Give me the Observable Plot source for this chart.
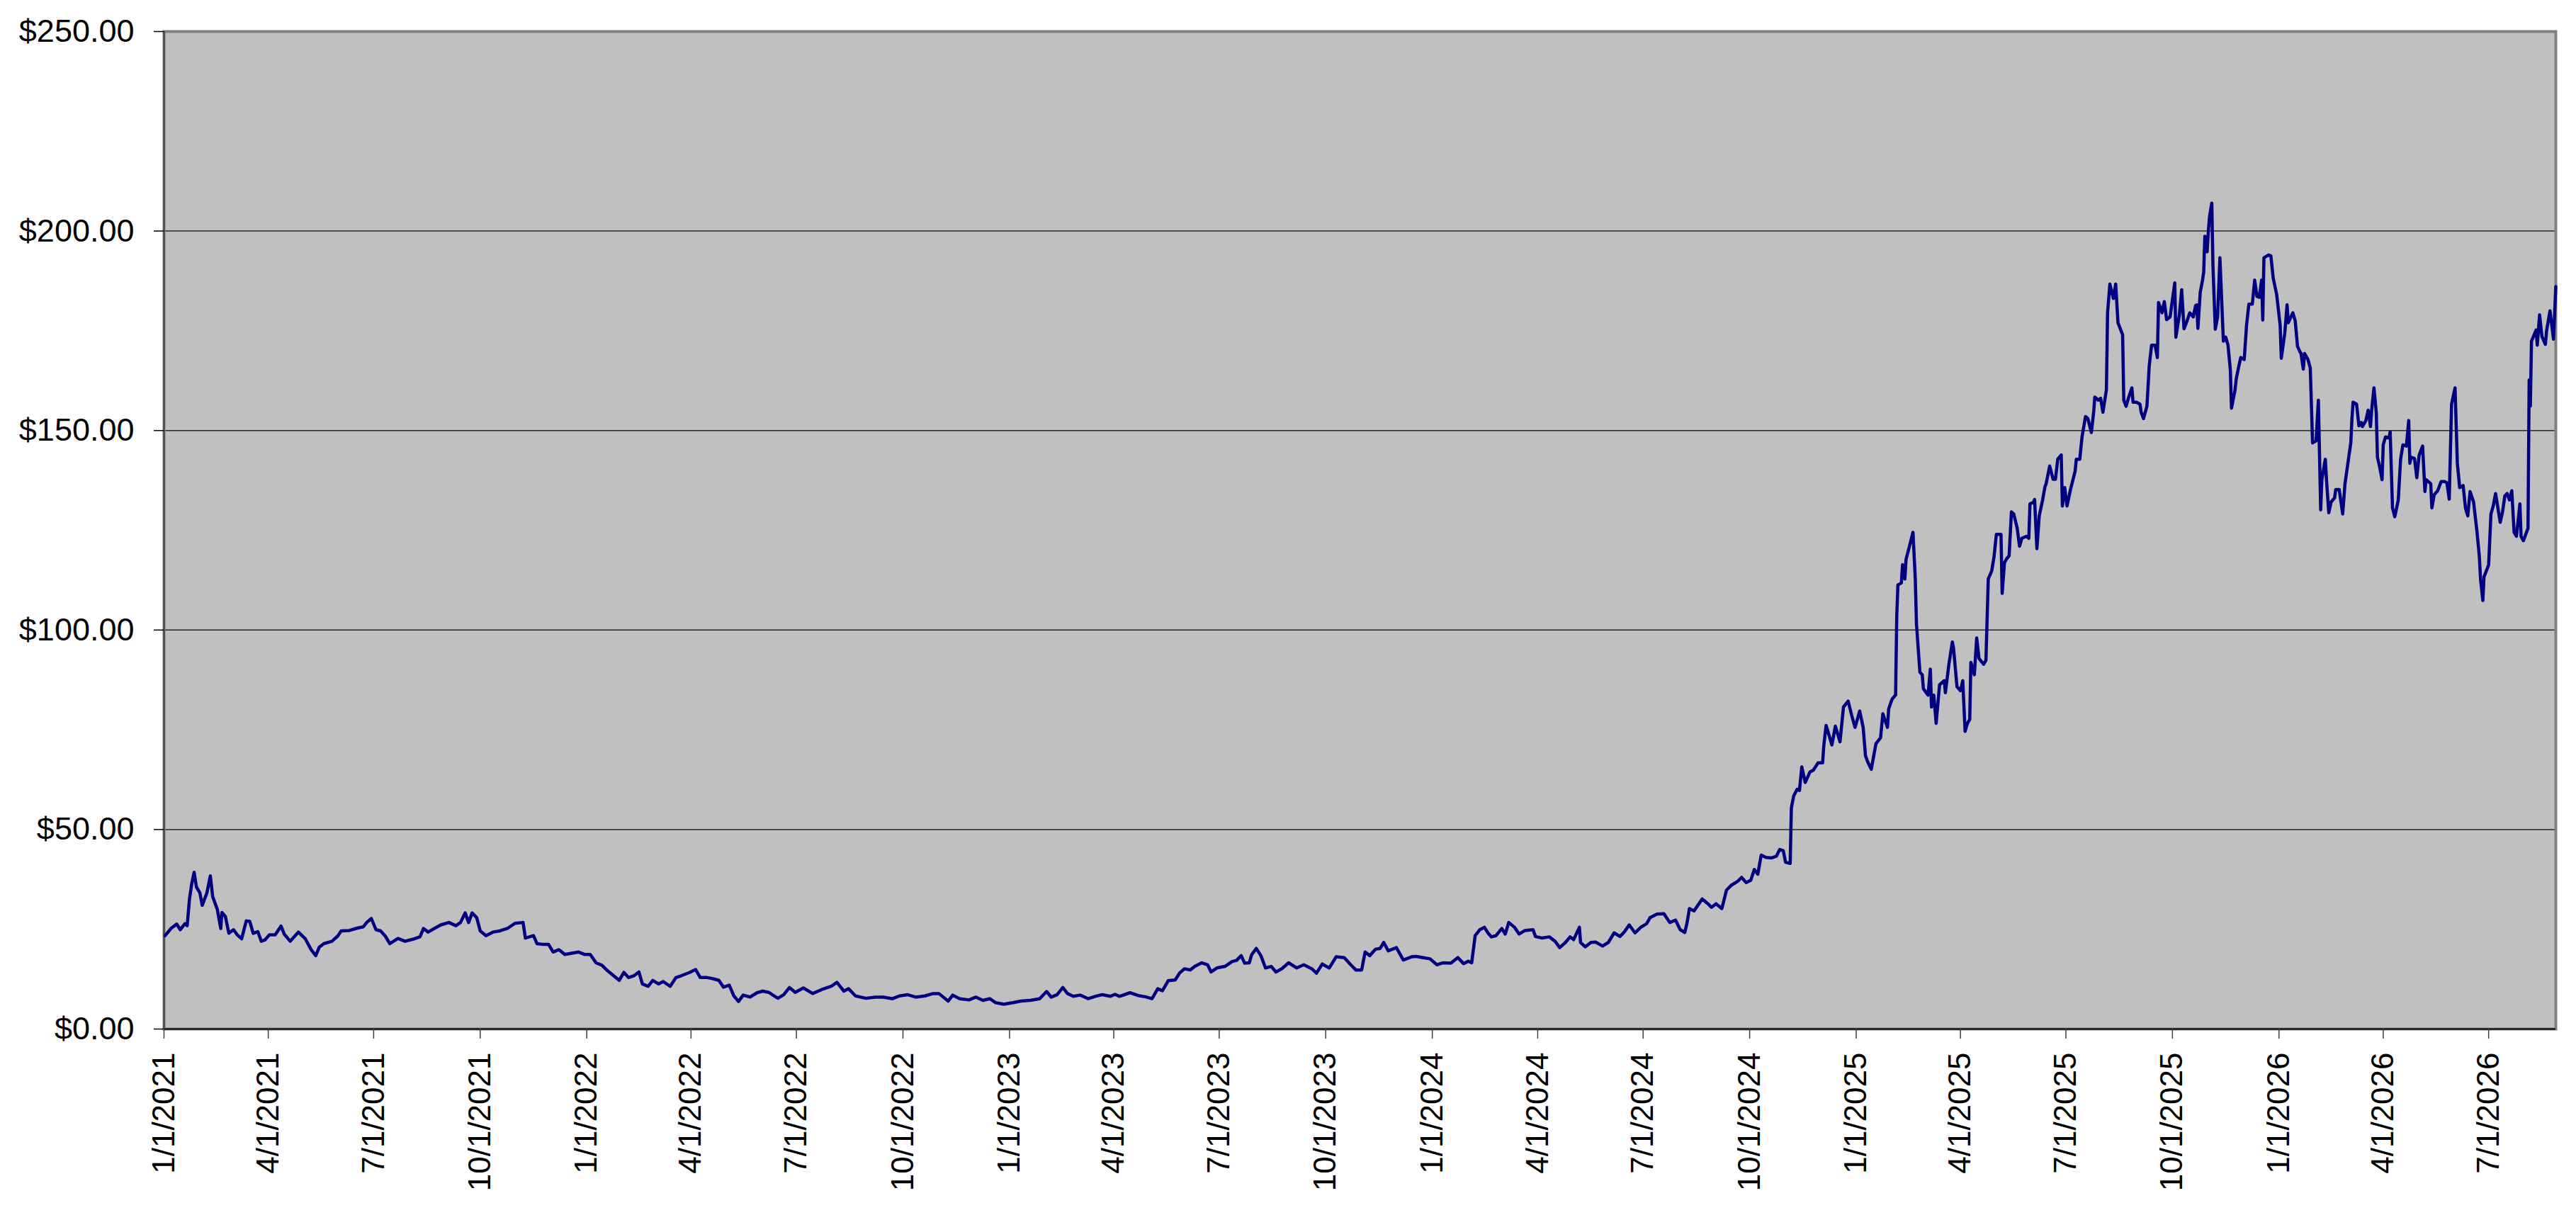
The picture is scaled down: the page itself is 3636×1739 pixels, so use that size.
<!DOCTYPE html>
<html>
<head>
<meta charset="utf-8">
<script src="https://cdn.jsdelivr.net/npm/d3@7"></script>
<script src="https://cdn.jsdelivr.net/npm/@observablehq/plot@0.6"></script>
<style>
  html, body { margin: 0; padding: 0; background: #ffffff; }
  #chart { width: 3636px; height: 1739px; }
</style>
</head>
<body>
<div id="chart"></div>
<script>
// Days since 1/1/2021 and closing price
const days = [
  1,6,11,14,18,20,22,24,26,28,31,33,37,40,42,46,49,50,53,56,60,63,67,71,74,77,81,84,87,91,96,101,104,109,116,122,127,131,134,138,145,150,153,160,167,172,175,179,183,187,191,195,202,208,216,221,224,228,234,239,246,252,256,260,263,266,270,273,278,284,290,297,303,310,312,319,322,327,332,336,341,346,352,358,363,368,373,378,383,388,393,397,401,406,410,413,418,422,427,431,437,442,447,454,459,463,469,474,479,483,488,492,496,500,506,512,517,522,530,535,540,545,552,560,568,576,581,587,591,597,606,614,621,629,635,642,649,657,664,669,677,681,687,695,701,707,713,718,725,733,740,748,756,762,766,771,776,
  780,785,791,798,804,810,817,821,825,834,841,847,853,858,862,867,873,877,881,886,890,896,901,904,909,916,922,926,930,933,937,939,943,947,951,956,960,965,971,978,984,991,995,1000,1006,1012,1019,1024,1029,1034,1037,1041,1046,1050,1053,1057,1064,1070,1077,1081,1087,1093,1099,1104,1111,1117,1122,1126,1129,1132,1136,1140,1143,1146,1150,1155,1158,1161,1166,1170,1175,1182,1184,1190,1196,1201,1205,1210,1214,1217,1222,1223,1227,1232,1236,1242,1247,1252,1257,1261,1265,1270,1275,1280,1283,1289,1295,1300,1305,1309,1313,1315,1317,1321,1328,1333,1336,1340,1345,1349,1353,1359,1362,1366,1370,1373,1376,1379,1383,1388,1392,1395,1398,1400,1404,1405,1407,1410,
  1412,1414,1417,1419,1421,1424,1428,1432,1433,1435,1440,1443,1447,1450,1454,1457,1460,1464,1467,1469,1471,1474,1478,1482,1484,1488,1489,1492,1495,1496,1497,1500,1501,1503,1504,1506,1510,1512,1513,1516,1518,1519,1523,1525,1526,1528,1530,1532,1533,1537,1538,1541,1544,1545,1548,1551,1553,1555,1557,1559,1560,1563,1565,1567,1571,1573,1575,1578,1580,1582,1586,1587,1589,1591,1593,1595,1597,1600,1602,1604,1608,1610,1611,1614,1615,1617,1619,1622,1624,1625,1628,1631,1633,1635,1638,1639,1641,1643,1646,1650,1651,1654,1656,1659,1661,1664,1666,1667,1670,1672,1674,1677,1678,1680,1683,1685,1687,1691,1692,1694,1696,1699,1700,1703,1706,1707,1709,1712,1714,1716,1719,1721,1722,1725,1727,1729,1732,1736,1737,1740,1742,1744,1746,1749,1752,1754,
  1755,1756,1758,1760,1761,1762,1764,1765,1766,1768,1769,1771,1773,1775,1778,1780,1782,1784,1785,1788,1789,1791,1793,1796,1798,1800,1803,1805,1807,1809,1811,1812,1813,1817,1819,1821,1824,1827,1828,1831,1833,1834,1838,1840,1842,1844,1845,1847,1848,1851,1853,1855,1858,1860,1862,1863,1866,1867,1869,1871,1874,1875,1878,1881,1883,1885,1888,1889,1890,1893,1895,1897,1898,1901,1903,1905,1906,1908,1910,1911,1913,1915,1916,1918,1921,1922,1924,1926,1929,1931,1933,1936,1938,1939,1940,1943,1945,1947,1950,1952,1953,1957,1958,1960,1963,1966,1969,1971,1973,1975,1978,1980,1982,1985,1987,1989,1991,1994,1997,1999,2000,2002,2003,2007,2009,2011,2013,2017,2019,2021,2023,2025,2027,2029,2031,2034,2035,2037,2041,2042,2043,2044,2048,2049,2051,2053,2056,2057,2060,2063,2065
];
const prices = [
  23.4,25.2,26.3,24.9,26.4,25.9,32.6,36.5,39.3,35.6,34.1,31.0,34.1,38.4,33.2,30.0,25.2,29.2,28.2,24.0,24.9,23.7,22.6,27.1,27.0,24.0,24.4,22.0,22.3,23.6,23.6,25.8,23.7,22.0,24.3,22.6,19.9,18.4,20.5,21.4,22.0,23.3,24.6,24.7,25.3,25.6,26.7,27.7,24.9,24.6,23.3,21.4,22.7,22.0,22.6,23.1,25.2,24.3,25.3,26.1,26.7,25.9,26.7,29.1,26.7,29.1,27.9,24.6,23.4,24.3,24.6,25.3,26.5,26.7,22.8,23.4,21.4,21.2,21.2,19.3,19.9,18.7,19.0,19.3,18.7,18.7,16.6,16.0,14.6,13.4,12.2,14.2,12.9,13.4,14.3,11.3,10.7,12.2,11.3,11.9,10.7,12.9,13.4,14.2,14.9,12.9,12.9,12.6,12.2,10.5,11.0,8.3,6.9,8.5,8.0,9.1,9.5,9.2,7.7,8.6,10.4,9.2,10.3,8.9,9.9,10.7,11.7,9.5,10.1,8.3,7.7,8.0,8.0,7.6,8.3,8.6,8.0,8.3,8.9,8.9,7.0,8.5,7.6,7.3,8.0,7.2,7.6,6.6,6.2,6.6,7.0,7.2,7.6,9.4,8.0,8.6,10.4,
  8.9,8.2,8.5,7.6,8.2,8.6,8.2,8.7,8.2,9.1,8.4,8.1,7.6,10.1,9.6,12.1,12.3,14.1,15.1,14.8,15.7,16.6,16.1,14.3,15.3,15.7,16.9,17.2,18.4,16.5,16.6,18.6,20.2,18.4,15.3,15.7,14.3,15.1,16.6,15.3,16.1,15.1,14.0,16.3,15.3,18.1,17.9,16.3,14.8,14.8,19.3,18.4,20.0,20.2,21.7,19.6,20.4,17.3,18.1,18.2,17.9,17.6,16.1,16.6,16.5,17.9,16.4,17.0,16.6,23.4,24.9,25.5,24.1,23.1,23.4,25.2,23.8,26.7,25.5,23.8,24.7,24.9,23.2,22.8,23.1,22.0,20.4,21.7,23.1,22.4,25.5,21.7,20.6,21.7,21.8,20.8,21.7,24.1,23.2,24.4,26.1,24.1,25.5,26.4,27.9,28.8,28.9,26.7,27.3,24.9,24.2,26.7,30.2,29.6,32.6,31.4,30.5,31.4,30.2,34.8,36.0,37.1,38.0,36.7,37.3,40.0,38.8,43.6,43.0,42.9,43.3,45.0,44.7,41.8,41.5,55.4,58.4,60.1,
  59.8,65.7,61.8,63.1,64.4,64.9,66.7,66.7,71.0,76.1,71.2,75.9,72.0,80.7,82.2,78.7,75.6,79.7,75.6,68.5,66.9,65.1,71.5,73.0,79.0,75.6,80.2,82.7,83.7,103.6,111.3,111.8,116.4,112.8,117.7,119.9,124.5,112.8,101.6,89.4,88.8,85.3,83.7,90.2,80.7,83.7,76.6,83.2,86.3,87.3,84.3,91.4,97.0,95.5,85.8,84.8,87.3,74.6,76.6,77.6,91.9,88.8,98.0,92.9,91.4,92.4,112.8,114.8,118.4,124.0,124.0,109.2,116.9,117.9,118.6,129.6,129.1,125.5,121.0,123.0,123.5,123.0,131.6,132.0,132.7,120.4,128.6,132.7,136.0,136.7,141.1,137.8,137.8,142.8,143.9,131.1,135.7,131.1,135.2,139.8,142.8,142.8,148.5,153.5,153.0,149.5,154.6,158.4,157.6,158.1,154.6,160.2,179.5,186.7,183.1,186.7,177.0,174.0,157.6,156.1,158.1,160.7,157.1,157.1,156.6,154.6,153.0,156.1,166.3,171.4,171.4,168.3,182.1,179.5,182.3,177.8,178.5,187.0,173.4,179.0,185.3,175.5,177.0,179.5,178.5,181.3,
  181.5,175.6,184.6,187.7,189.7,198.7,194.8,199.9,203.5,207.0,191.2,175.4,178.5,193.3,172.4,173.4,171.4,165.2,155.6,160.1,162.7,165.7,168.3,167.8,176.4,181.7,181.7,187.7,183.6,183.4,187.7,177.7,193.3,194.0,193.8,188.2,184.1,176.4,168.1,174.4,181.5,177.0,179.5,177.5,171.1,169.8,169.3,165.4,169.3,167.8,165.7,146.9,147.4,157.6,130.1,137.7,142.8,137.7,129.4,132.1,133.1,135.2,135.2,129.1,136.7,140.8,146.9,153.0,157.1,156.6,151.2,152.0,151.0,152.5,155.1,151.0,155.1,160.7,154.5,143.3,140.8,137.7,146.4,148.4,148.1,149.7,130.6,128.4,132.6,142.8,146.4,146.1,152.5,141.8,143.3,143.0,138.2,143.8,146.1,134.7,137.7,136.7,130.6,133.9,134.9,137.2,137.2,136.9,132.8,156.6,160.7,141.8,135.7,136.2,130.6,128.6,134.7,132.1,124.5,118.4,112.8,107.4,113.3,116.3,129.1,131.1,134.2,127.0,129.6,133.6,134.2,132.6,134.9,124.5,123.5,131.6,123.5,122.4,125.5,162.7,156.1,172.4,175.2,171.4,179.0,173.6,171.6,174.9,180.0,172.9,186.1
];
const yTicks = [0, 50, 100, 150, 200, 250];
const yGrid = [50, 100, 150, 200];
const xTickLabels = [
  "1/1/2021","4/1/2021","7/1/2021","10/1/2021",
  "1/1/2022","4/1/2022","7/1/2022","10/1/2022",
  "1/1/2023","4/1/2023","7/1/2023","10/1/2023",
  "1/1/2024","4/1/2024","7/1/2024","10/1/2024",
  "1/1/2025","4/1/2025","7/1/2025","10/1/2025",
  "1/1/2026","4/1/2026","7/1/2026"
];
const lastDay = 2065;

const DAY = 864e5;
const start = Date.UTC(2021, 0, 1);
const data = days.map((d, i) => ({date: new Date(start + d * DAY), price: prices[i]}));
const tickDates = xTickLabels.map(s => {
  const [m, d, y] = s.split("/").map(Number);
  return new Date(Date.UTC(y, m - 1, d));
});
const fmtDate = d => `${d.getUTCMonth() + 1}/${d.getUTCDate()}/${d.getUTCFullYear()}`;

const chart = Plot.plot({
  width: 3636,
  height: 1739,
  marginLeft: 231,
  marginRight: 29,
  marginTop: 44,
  marginBottom: 287,
  style: {
    fontFamily: "'Liberation Sans', Arial, Helvetica, sans-serif",
    fontSize: "45px",
    color: "#000000",
    background: "#ffffff",
    overflow: "visible"
  },
  x: {type: "utc", domain: [new Date(start), new Date(start + lastDay * DAY)], label: null},
  y: {domain: [0, 250], label: null},
  marks: [
    Plot.frame({fill: "#C0C0C0"}),
    Plot.gridY(yGrid, {stroke: "#000000", strokeOpacity: 0.8, strokeWidth: 1.5}),
    Plot.frame({stroke: "#808080", strokeWidth: 4}),
    Plot.ruleY([0], {stroke: "#000000", strokeWidth: 2}),
    Plot.ruleX([new Date(start)], {stroke: "#404040", strokeWidth: 2}),
    Plot.line(data, {x: "date", y: "price", stroke: "#000080", strokeWidth: 4.5, strokeLinejoin: "round"}),
    Plot.axisY(yTicks, {
      label: null,
      tickFormat: d => "$" + d.toFixed(2),
      tickSize: 14,
      tickPadding: 28,
      fontSize: 45,
      strokeWidth: 1.5
    }),
    Plot.axisX(tickDates, {
      label: null,
      tickFormat: fmtDate,
      tickRotate: -90,
      tickSize: 14,
      tickPadding: 19,
      fontSize: 44,
      stroke: "#404040",
      strokeWidth: 1.5
    })
  ]
});
document.getElementById("chart").appendChild(chart);
</script>
</body>
</html>
